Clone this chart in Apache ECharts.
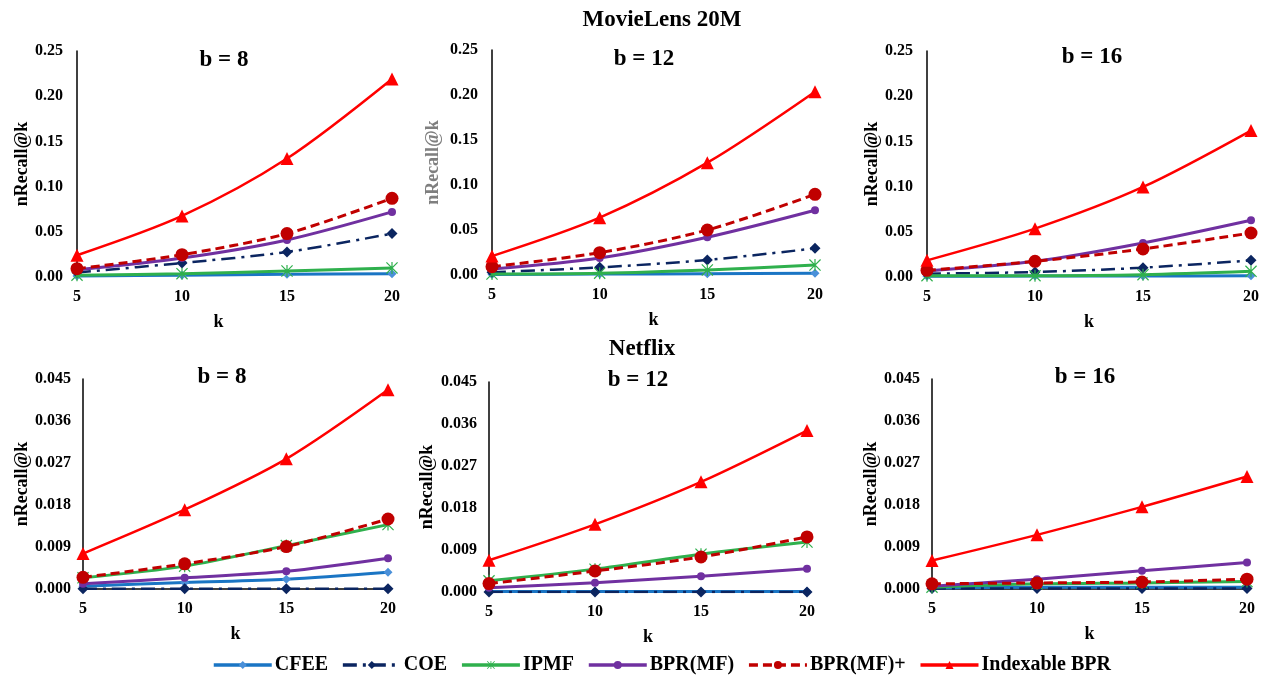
<!DOCTYPE html>
<html>
<head>
<meta charset="utf-8">
<script src="https://cdn.jsdelivr.net/npm/echarts@6/dist/echarts.min.js"></script>
<style>
html,body{margin:0;padding:0;background:#fff;}
#chart{width:1262px;height:676px;}
</style>
</head>
<body>
<div id="chart"></div>
<script>
// ---- data ----
const kValues = [5, 10, 15, 20];
const seriesNames = ['CFEE', 'COE', 'IPMF', 'BPR(MF)', 'BPR(MF)+', 'Indexable BPR'];
const panelTitles = ['b = 8', 'b = 12', 'b = 16', 'b = 8', 'b = 12', 'b = 16'];
const datasetTitles = ['MovieLens 20M', 'Netflix'];
const topTicks = [0, 0.05, 0.10, 0.15, 0.20, 0.25];
const bottomTicks = [0, 0.009, 0.018, 0.027, 0.036, 0.045];

// order of rows: CFEE, COE, IPMF, BPR(MF), BPR(MF)+, Indexable BPR
const ML_B8 = [
  [0.001, 0.002, 0.003, 0.0037],
  [0.005, 0.0155, 0.0277, 0.048],
  [0.002, 0.0037, 0.0066, 0.010],
  [0.008, 0.021, 0.041, 0.072],
  [0.0092, 0.0247, 0.048, 0.087],
  [0.024, 0.0675, 0.131, 0.219]
];
const ML_B12 = [
  [0.0005, 0.001, 0.0015, 0.002],
  [0.003, 0.0085, 0.0167, 0.0296],
  [0.001, 0.002, 0.0056, 0.011],
  [0.0067, 0.019, 0.042, 0.072],
  [0.0093, 0.0248, 0.05, 0.0896],
  [0.021, 0.0637, 0.1248, 0.2037]
];
const ML_B16 = [
  [0.0007, 0.001, 0.001, 0.0015],
  [0.0037, 0.0055, 0.0103, 0.0184],
  [0.0015, 0.0015, 0.0026, 0.0063],
  [0.0066, 0.0173, 0.0376, 0.0627],
  [0.0074, 0.0173, 0.031, 0.0487],
  [0.0184, 0.0535, 0.0996, 0.162]
];
const NF_B8 = [
  [0.0006, 0.0014, 0.0021, 0.0036],
  [0.00005, 0.00005, 0.00005, 0.00005],
  [0.0024, 0.0049, 0.0093, 0.0138],
  [0.0011, 0.0024, 0.0038, 0.0066],
  [0.0025, 0.0054, 0.0091, 0.015],
  [0.0076, 0.017, 0.0279, 0.0427]
];
const NF_B12 = [
  [0.0001, 0.0001, 0.0001, 0.0001],
  [0.00002, 0.00002, 0.00002, 0.00002],
  [0.0024, 0.0049, 0.0081, 0.0107],
  [0.0009, 0.002, 0.0034, 0.005],
  [0.0018, 0.0045, 0.0075, 0.0118],
  [0.0068, 0.0145, 0.0236, 0.0346]
];
const NF_B16 = [
  [0.0002, 0.0004, 0.0004, 0.0004],
  [0.0001, 0.0001, 0.0001, 0.0001],
  [0.0004, 0.0011, 0.0013, 0.0016],
  [0.0006, 0.0021, 0.0039, 0.0057],
  [0.0011, 0.0013, 0.0015, 0.0021],
  [0.0061, 0.0116, 0.0176, 0.0241]
];
const panelData = [ML_B8, ML_B12, ML_B16, NF_B8, NF_B12, NF_B16];

// ---- styling / layout ----
const FONT = "'Liberation Serif', 'Times New Roman', serif";
const grids = [
  {left: 77, top: 51, width: 315, height: 226},
  {left: 492, top: 50, width: 323, height: 225},
  {left: 927, top: 51, width: 325, height: 226},
  {left: 83, top: 379, width: 305, height: 210},
  {left: 489, top: 382, width: 318, height: 210},
  {left: 932, top: 379, width: 315, height: 210}
];
const yNameGaps = [45, 50, 45, 49, 53, 51];
const yNameColors = ['#000', '#7f7f7f', '#000', '#000', '#000', '#000'];
const kPadding = [[0, 32, 0, 0], 0, 0, 0, 0, 0];
const titlePos = [[224, 60], [644, 59], [1092, 57], [222, 377], [638, 380], [1085, 377]];
const datasetPos = [[662, 20], [642, 349]];

const ASTER = 'path://M9 0 L11 0 L11 20 L9 20 Z M0 1.4 L1.4 0 L20 18.6 L18.6 20 Z M18.6 0 L20 1.4 L1.4 20 L0 18.6 Z';
const styles = [
  {line: '#1a75c4', mark: '#4a90d9', type: 'solid', symbol: 'diamond', size: 9, width: 3},
  {line: '#0b2560', mark: '#0b2560', type: [14, 6, 3, 6], symbol: 'diamond', size: 11, width: 2.5},
  {line: '#2fb04d', mark: '#2fb04d', type: 'solid', symbol: ASTER, size: 12, width: 3},
  {line: '#7030a0', mark: '#7030a0', type: 'solid', symbol: 'circle', size: 8, width: 3},
  {line: '#c00000', mark: '#c00000', type: [9, 5], symbol: 'circle', size: 13, width: 3},
  {line: '#ff0000', mark: '#ff0000', type: 'solid', symbol: 'triangle', size: 13, width: 2.5}
];

const chart = echarts.init(document.getElementById('chart'));
const xAxes = [], yAxes = [], series = [], graphics = [];

grids.forEach((g, i) => {
  const isTop = i < 3;
  const ticks = isTop ? topTicks : bottomTicks;
  xAxes.push({
    type: 'category', gridIndex: i, data: kValues.map(String), boundaryGap: false,
    name: 'k', nameLocation: 'middle', nameGap: 36,
    nameTextStyle: {fontFamily: FONT, fontWeight: 'bold', fontSize: 18, color: '#000', padding: kPadding[i]},
    axisLine: {show: !isTop, lineStyle: {color: '#000', width: 1.5}},
    axisTick: {show: false},
    axisLabel: {fontFamily: FONT, fontWeight: 'bold', fontSize: 16, color: '#000', margin: 12},
    splitLine: {show: false}
  });
  yAxes.push({
    type: 'value', gridIndex: i, min: ticks[0], max: ticks[ticks.length - 1],
    interval: ticks[1] - ticks[0],
    name: 'nRecall@k', nameLocation: 'middle', nameGap: yNameGaps[i],
    nameTextStyle: {fontFamily: FONT, fontWeight: 'bold', fontSize: 18, color: yNameColors[i]},
    axisLine: {show: true, lineStyle: {color: '#000', width: 1.5}},
    axisTick: {show: false},
    axisLabel: {
      fontFamily: FONT, fontWeight: 'bold', fontSize: 16, color: '#000', margin: isTop ? 14 : 12,
      formatter: v => v.toFixed(isTop ? 2 : 3)
    },
    splitLine: {show: false}
  });
  panelData[i].forEach((vals, s) => {
    const st = styles[s];
    series.push({
      type: 'line', name: seriesNames[s], xAxisIndex: i, yAxisIndex: i,
      data: vals, smooth: 0.3, symbol: st.symbol, symbolSize: st.size,
      lineStyle: {color: st.line, width: st.width, type: st.type},
      itemStyle: {color: st.mark, borderColor: st.mark, borderWidth: 0},
      z: 2 + s
    });
  });
  graphics.push({
    type: 'text', x: titlePos[i][0], y: titlePos[i][1],
    style: {text: panelTitles[i], fontFamily: FONT, fontWeight: 'bold', fontSize: 23, fill: '#000',
      textAlign: 'center', textVerticalAlign: 'middle'}
  });
});
datasetTitles.forEach((t, i) => {
  graphics.push({
    type: 'text', x: datasetPos[i][0], y: datasetPos[i][1],
    style: {text: t, fontFamily: FONT, fontWeight: 'bold', fontSize: 23, fill: '#000',
      textAlign: 'center', textVerticalAlign: 'middle'}
  });
});

chart.setOption({
  animation: false,
  backgroundColor: '#fff',
  grid: grids,
  xAxis: xAxes,
  yAxis: yAxes,
  series: series,
  graphic: graphics,
  legend: {
    data: seriesNames, left: 207, top: 650, itemWidth: 58, itemHeight: 10, itemGap: 13,
    lineStyle: {width: 3.5},
    textStyle: {fontFamily: FONT, fontWeight: 'bold', fontSize: 20, color: '#000', padding: [0, 0, 0, -2]}
  }
});
</script>
</body>
</html>
